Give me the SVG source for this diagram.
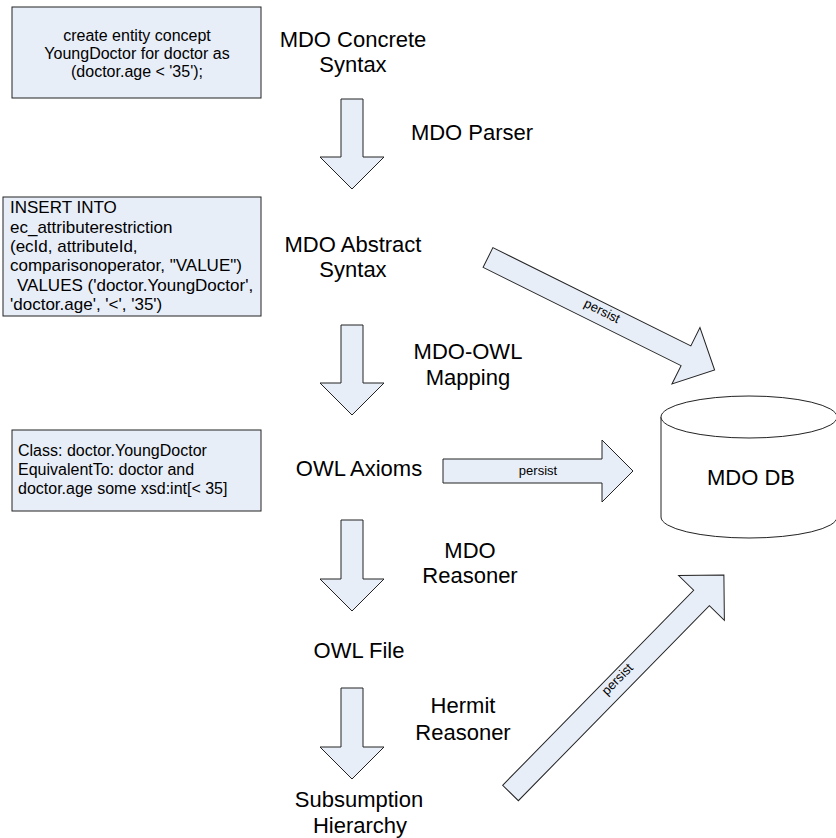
<svg xmlns="http://www.w3.org/2000/svg" width="836" height="838" viewBox="0 0 836 838">
<style>
text{font-family:"Liberation Sans",Arial,sans-serif;fill:#000}
.box{fill:#E8EEF8;stroke:#222;stroke-width:1}
.arr{fill:#E8EEF8;stroke:#222;stroke-width:1;stroke-linejoin:miter}
.lbl{font-size:22px;text-anchor:middle}
.bt{font-size:16px}
.bt2{font-size:17px}
.p{font-size:13px;text-anchor:middle}
.db{fill:#fff;stroke:#222;stroke-width:1}
</style>
<rect width="836" height="838" fill="#fff"/>
<g id="box-concrete">
<rect class="box" x="12" y="7" width="249" height="91"/>
<text class="bt" x="137" y="41" text-anchor="middle">create entity concept</text>
<text class="bt" x="137" y="59" text-anchor="middle">YoungDoctor for doctor as</text>
<text class="bt" x="137" y="77" text-anchor="middle">(doctor.age &lt; '35');</text>
</g>
<g id="box-abstract">
<rect class="box" x="3" y="197" width="258" height="119"/>
<text class="bt2" x="10" y="213">INSERT INTO</text>
<text class="bt2" x="10" y="232.5">ec_attributerestriction</text>
<text class="bt2" x="10" y="252">(ecId, attributeId,</text>
<text class="bt2" x="10" y="271">comparisonoperator, "VALUE")</text>
<text class="bt2" x="17" y="290.5">VALUES ('doctor.YoungDoctor',</text>
<text class="bt2" x="10" y="310">'doctor.age', '&lt;', '35')</text>
</g>
<g id="box-owl">
<rect class="box" x="12" y="430" width="249" height="81"/>
<text class="bt" x="18" y="456">Class: doctor.YoungDoctor</text>
<text class="bt" x="18" y="475">EquivalentTo: doctor and</text>
<text class="bt" x="18" y="494">doctor.age some xsd:int[&lt; 35]</text>
</g>
<g id="node-concrete"><text class="lbl" x="353" y="47">MDO Concrete</text><text class="lbl" x="353" y="72">Syntax</text></g>
<g id="node-abstract"><text class="lbl" x="353" y="252">MDO Abstract</text><text class="lbl" x="353" y="277">Syntax</text></g>
<g id="node-axioms"><text class="lbl" x="359" y="476">OWL Axioms</text></g>
<g id="node-owlfile"><text class="lbl" x="359" y="658">OWL File</text></g>
<g id="node-subsumption"><text class="lbl" x="359" y="807">Subsumption</text><text class="lbl" x="360" y="833">Hierarchy</text></g>
<g id="node-db">
<path class="db" d="M661,417 V517 A88,21 0 0 0 837,517 V417 A88,21 0 0 0 661,417 Z"/>
<path class="db" d="M661,417 A88,21 0 0 0 837,417" fill="none"/>
<text class="lbl" x="751" y="485">MDO DB</text>
</g>
<g id="connectors">
<path class="arr" d="M341,99 H363 V157 H384 L352,189 L320,157 H341 Z"/>
<path class="arr" d="M341,325 H363 V383 H384 L352,415 L320,383 H341 Z"/>
<path class="arr" d="M341,520 H363 V579 H384 L352,611 L320,579 H341 Z"/>
<path class="arr" d="M341,688 H363 V747 H384 L352,779 L320,747 H341 Z"/>
<text class="lbl" x="472" y="140">MDO Parser</text>
<text class="lbl" x="468" y="359">MDO-OWL</text>
<text class="lbl" x="468" y="385">Mapping</text>
<text class="lbl" x="470" y="558">MDO</text>
<text class="lbl" x="470" y="583">Reasoner</text>
<text class="lbl" x="463" y="713">Hermit</text>
<text class="lbl" x="463" y="740">Reasoner</text>
<path class="arr" d="M443,459 H602 V440 L633,471 L602,502 V483 H443 Z"/>
<text class="p" x="538" y="475">persist</text>
<g transform="translate(488,257.5) rotate(26.4)">
<path class="arr" d="M0,-11 H221 V-31.5 L253,0 L221,31.5 V11 H0 Z"/>
<text class="p" x="126" y="1.5">persist</text>
</g>
<g transform="translate(510.5,793) rotate(-45.6)">
<path class="arr" d="M0,-11 H273 V-32 L305,0 L273,32 V11 H0 Z"/>
<text class="p" x="156" y="1">persist</text>
</g>
</g>
</svg>
